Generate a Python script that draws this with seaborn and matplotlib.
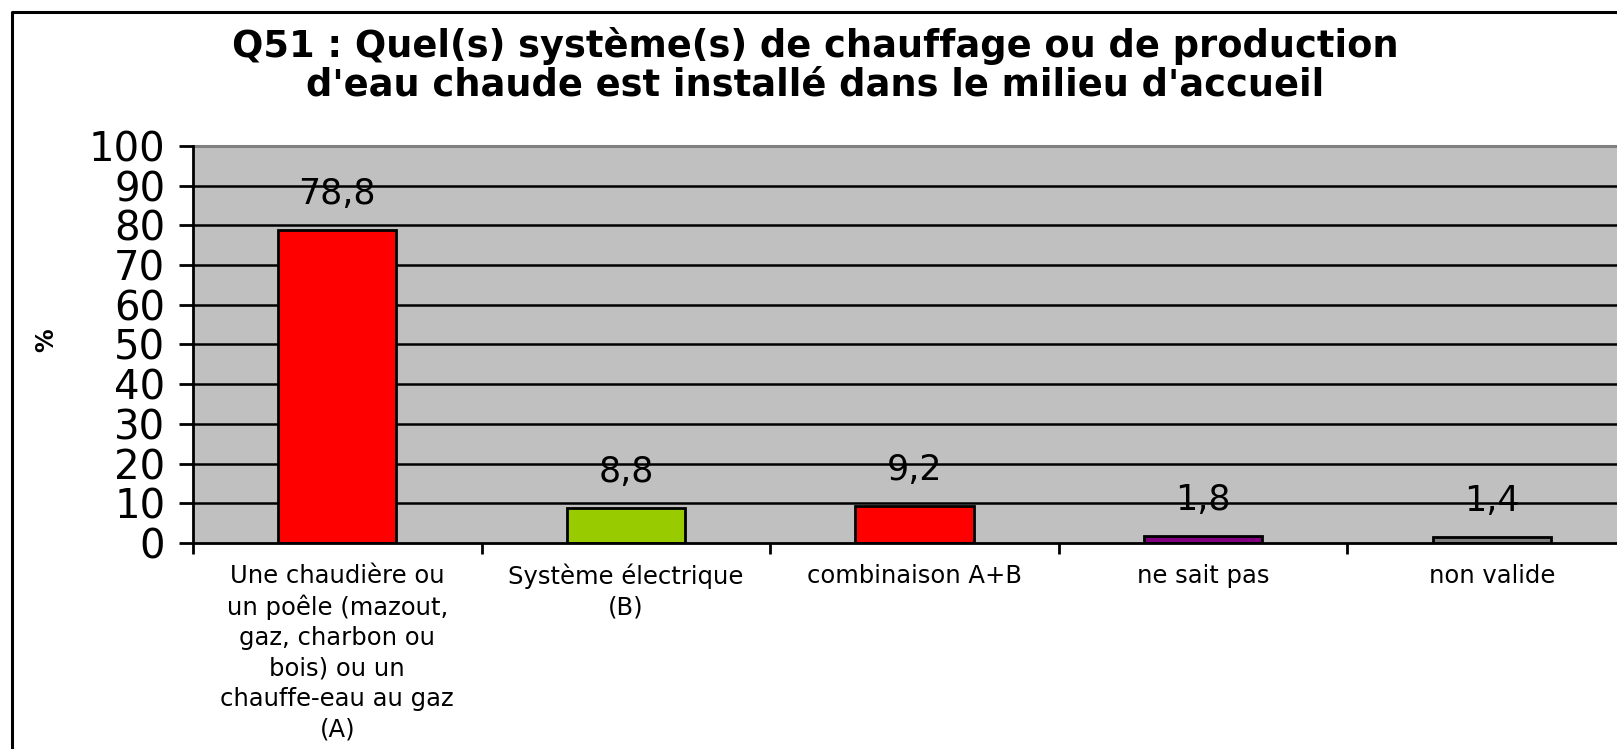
import numpy as np
import pandas as pd
import seaborn as sns
import matplotlib.pyplot as plt
from matplotlib.lines import Line2D

# data
categories = ['Une chaudière ou\nun poêle (mazout,\ngaz, charbon ou\nbois) ou un\nchauffe-eau au gaz\n(A)',
              'Système électrique\n(B)',
              'combinaison A+B',
              'ne sait pas',
              'non valide']
values = [78.8, 8.8, 9.2, 1.8, 1.4]
bar_colors = ['#FF0000', '#99CC00', '#FF0000', '#800080', '#808080']
yticks = list(range(0, 101, 10))

df = pd.DataFrame({'cat': categories, 'val': values})

W, H = 1617, 749
fig = plt.figure(figsize=(W / 100, H / 100), dpi=100)
ax = fig.add_axes([193 / W, (H - 543) / H, 1443 / W, 397 / H])

sns.barplot(df, x='cat', y='val', hue='cat', palette=bar_colors, legend=False,
            width=0.41, edgecolor='black', linewidth=2, saturation=1, ax=ax)

ax.set_facecolor('#C0C0C0')
ax.set_xlim(-0.5, 4.5)
ax.set_ylim(0, 100)
ax.set_yticks(yticks)
ax.set_yticklabels([str(t) for t in yticks], fontsize=29, family='DejaVu Sans')
for t in yticks[1:-1]:
    ax.axhline(t, color='black', lw=1.8, zorder=0.5)
ax.axhline(100, color='#808080', lw=2.2, zorder=0.5, clip_on=False)

ax.set_xticks(range(len(categories)))
ax.set_xticklabels(categories, fontsize=17.5, family='DejaVu Sans', linespacing=1.33, va='top')
ax.set_xticks(np.arange(-0.5, 5, 1), minor=True)
ax.tick_params(axis='x', which='major', length=0, pad=15)
ax.tick_params(axis='x', which='minor', length=8, width=2, direction='out')
ax.tick_params(axis='y', length=10, width=2, direction='out', pad=10)

for s in ['top', 'right']:
    ax.spines[s].set_visible(False)
ax.spines['left'].set_linewidth(2)
ax.spines['bottom'].set_linewidth(2)
ax.set_xlabel('')
ax.set_ylabel('')

# value labels
for i, v in enumerate(values):
    ax.annotate(str(v).replace('.', ','), (i, v), xytext=(0, 26), textcoords='offset points',
                ha='center', va='center', fontsize=25, family='DejaVu Sans')

fig.text(0.504, 1 - 46 / H, 'Q51 : Quel(s) système(s) de chauffage ou de production',
         ha='center', va='center', fontsize=26.5, fontweight='bold', family='DejaVu Sans')
fig.text(0.504, 1 - 85 / H, "d'eau chaude est installé dans le milieu d'accueil",
         ha='center', va='center', fontsize=26.5, fontweight='bold', family='DejaVu Sans')
fig.text(46 / W, 1 - 340 / H, '%', rotation=90, ha='center', va='center',
         fontsize=17, fontweight='bold', family='DejaVu Sans')

# outer frame, cut by the image edges
fig.add_artist(Line2D([12 / W, 12 / W, 1.0], [0.0, 1 - 12 / H, 1 - 12 / H],
                      color='black', lw=2.2, transform=fig.transFigure))

fig.savefig('out.png', dpi=100)
